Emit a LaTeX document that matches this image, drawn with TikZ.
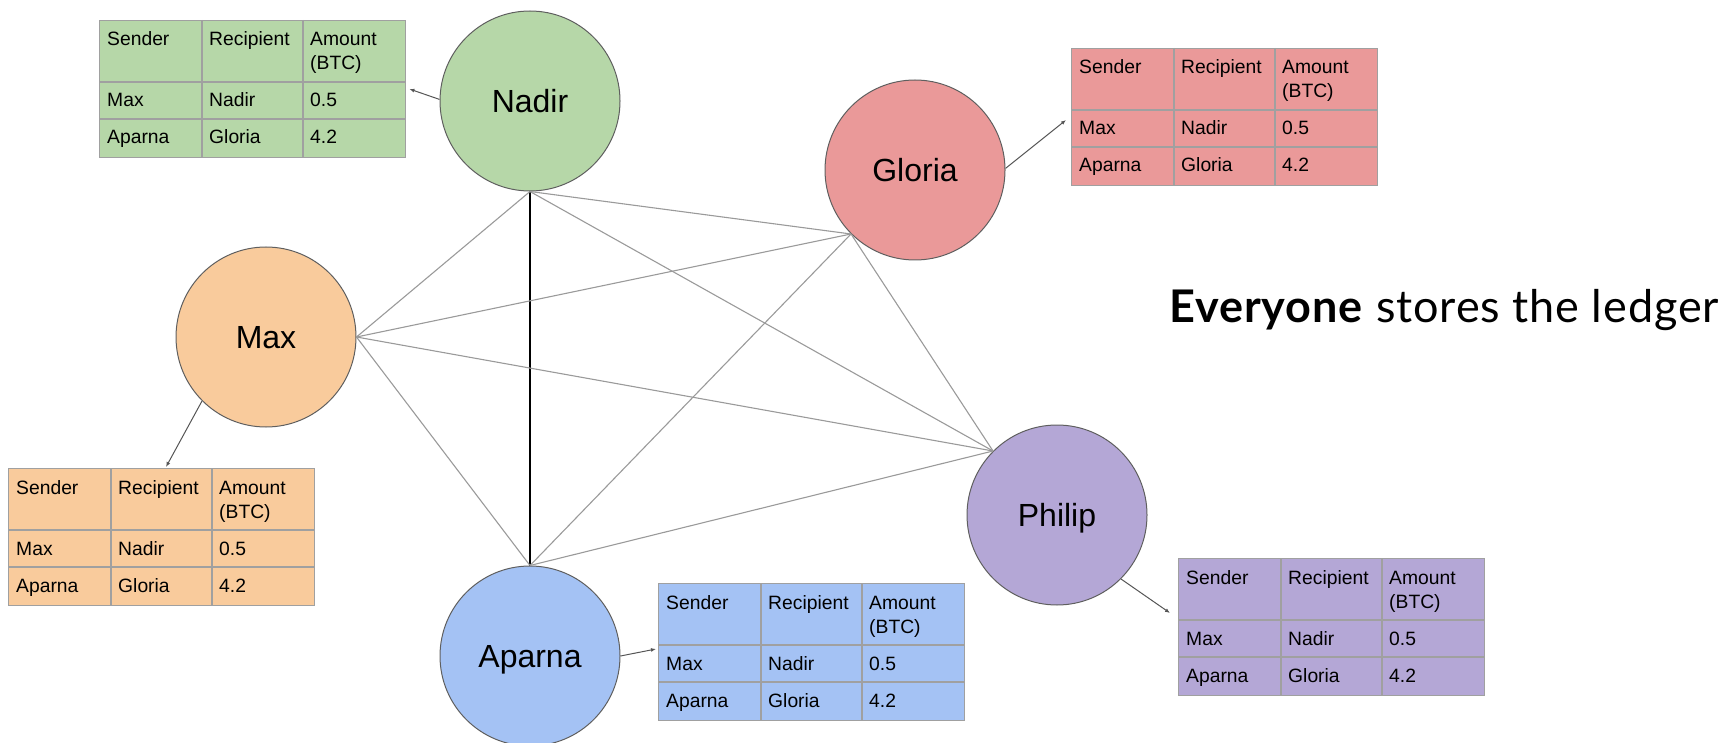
\documentclass[tikz,border=0pt]{standalone}
\usepackage{fontspec}
\setmainfont{Liberation Sans}
\newfontfamily\titlefont{Lato}[LetterSpace=2]
\usetikzlibrary{calc,arrows.meta}

\definecolor{greenfill}{HTML}{B6D7A8}
\definecolor{redfill}{HTML}{EA9999}
\definecolor{orangefill}{HTML}{F9CB9C}
\definecolor{bluefill}{HTML}{A4C2F4}
\definecolor{purplefill}{HTML}{B4A7D6}
\definecolor{peerline}{HTML}{5F5F5F}
\definecolor{linkgray}{HTML}{9A9A9A}
\definecolor{feedgray}{HTML}{555555}
\definecolor{gridgray}{HTML}{A0A0A0}

\tikzset{
  peer/.style={circle, draw=peerline, line width=1pt, minimum size=180pt,
    inner sep=0pt, font=\fontsize{32}{38}\selectfont, text height=23pt, text depth=0pt},
  link/.style={draw=linkgray, line width=1.1pt},
  mainlink/.style={draw=black, line width=1.4pt},
  feed/.style={draw=feedgray, line width=1pt, -{Latex[length=5pt,width=4pt]}},
  ledger/.style={draw=gridgray, line width=1.4pt, minimum width=306pt,
    minimum height=137pt, inner sep=0pt, anchor=north west},
  gridline/.style={draw=gridgray, line width=1.4pt},
  cell/.style={anchor=base west, inner sep=0pt, font=\fontsize{19.3}{24}\selectfont},
}

% one copy of the ledger: #1 name, #2 top-left corner, #3 fill colour
\newcommand\ledgertable[3]{%
  \node[ledger, fill=#3] (#1) at #2 {};
  \begin{scope}[shift={(#1.north west)}]
    \draw[gridline] (103,0) -- (103,137) (204,0) -- (204,137)
                    (0,62) -- (306,62) (0,99) -- (306,99);
    \node[cell] (#1-sender)    at (8,26)   {Sender};
    \node[cell] (#1-recipient) at (110,26) {Recipient};
    \node[cell] (#1-amount)    at (211,26) {Amount};
    \node[cell] (#1-btc)       at (211,50) {(BTC)};
    \node[cell] (#1-a1)        at (8,87)   {Max};
    \node[cell] (#1-a2)        at (110,87) {Nadir};
    \node[cell] (#1-a3)        at (211,87) {0.5};
    \node[cell] (#1-b1)        at (8,124)  {Aparna};
    \node[cell] (#1-b2)        at (110,124){Gloria};
    \node[cell] (#1-b3)        at (211,124){4.2};
  \end{scope}
}

\begin{document}
\begin{tikzpicture}[x=1pt, y=-1pt]
  \useasboundingbox (0,0) rectangle (1729,743);
  \clip (0,0) rectangle (1729,743);

  % peers
  \node[peer, fill=greenfill]  (nadir)  at (530,101) {Nadir};
  \node[peer, fill=redfill]    (gloria) at (915,170) {Gloria};
  \node[peer, fill=orangefill] (max)    at (266,337) {Max};
  \node[peer, fill=purplefill] (philip) at (1057,515) {Philip};
  \node[peer, fill=bluefill]   (aparna) at (530,656) {Aparna};

  % full mesh between the peers
  \draw[mainlink] (nadir.south) -- (aparna.north);
  \draw[link] (nadir.south) -- (max.east);
  \draw[link] (nadir.south) -- (gloria.225);
  \draw[link] (nadir.south) -- (philip.135);
  \draw[link] (max.east) -- (gloria.225);
  \draw[link] (max.east) -- (philip.135);
  \draw[link] (max.east) -- (aparna.north);
  \draw[link] (gloria.225) -- (aparna.north);
  \draw[link] (gloria.225) -- (philip.135);
  \draw[link] (aparna.north) -- (philip.135);

  % each peer's copy of the ledger
  \ledgertable{nadirtab}{(99,20)}{greenfill}
  \ledgertable{gloriatab}{(1071,48)}{redfill}
  \ledgertable{maxtab}{(8,468)}{orangefill}
  \ledgertable{aparnatab}{(658,583)}{bluefill}
  \ledgertable{philiptab}{(1178,558)}{purplefill}

  \coordinate (nadirtip)  at ($(nadirtab.north east)+(3,69)$);
  \coordinate (gloriatip) at ($(gloriatab.north west)+(-5,72)$);
  \coordinate (maxtip)    at ($(maxtab.north west)+(158,-1)$);
  \coordinate (aparnatip) at ($(aparnatab.north west)+(-2,66)$);
  \coordinate (philiptip) at ($(philiptab.north west)+(-8,55)$);

  \draw[feed] (nadir.179) -- (nadirtip);
  \draw[feed] (gloria.1) -- (gloriatip);
  \draw[feed] (max.225) -- (maxtip);
  \draw[feed] (aparna.0) -- (aparnatip);
  \draw[feed] (philip.315) -- (philiptip);

  \node[anchor=base west, inner sep=0pt, font=\titlefont\fontsize{45}{52}\selectfont]
    (title) at (1169,323) {\textbf{Everyone} stores the ledger};
\end{tikzpicture}
\end{document}
